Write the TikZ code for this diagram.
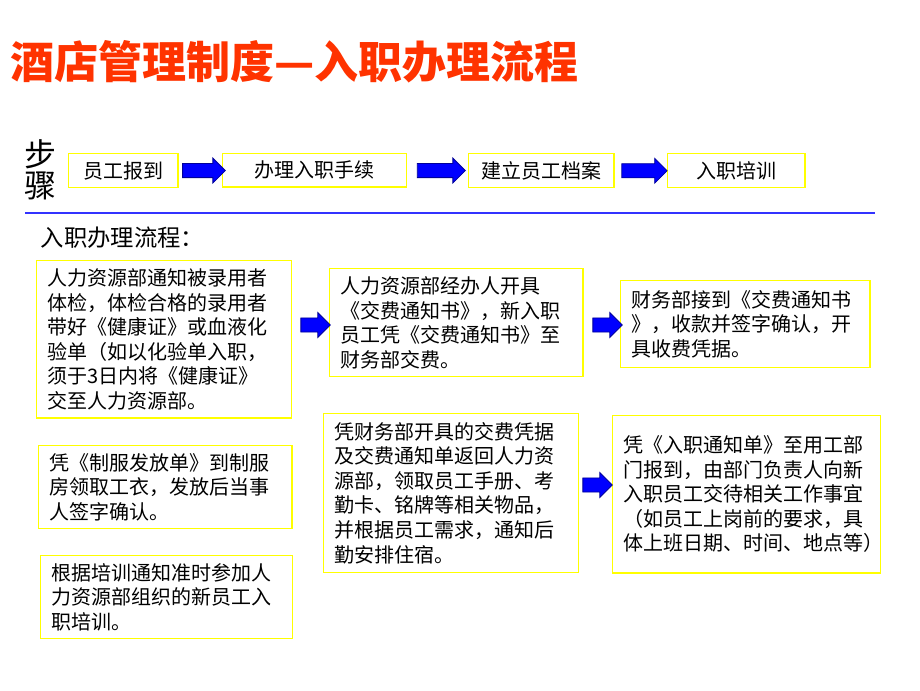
\documentclass[tikz,border=0pt]{standalone}
\usepackage{fontspec}
\setmainfont{Noto Sans CJK SC}
\usetikzlibrary{calc, positioning, shapes.arrows}
\definecolor{boxyellow}{RGB}{255,255,0}
\definecolor{titlered}{RGB}{255,51,0}
\definecolor{arrowblue}{RGB}{0,0,255}
\definecolor{rulerblue}{RGB}{51,51,255}
\tikzset{
  box/.style={draw=boxyellow, line width=1.1pt, anchor=north west, align=left,
    inner xsep=8pt, inner ysep=0pt, font=\fontsize{15}{18.4}\selectfont, fill=white},
  stepbox/.style={box, align=center, inner xsep=0pt},
  bigarrow/.style={single arrow, draw=arrowblue!60!black, fill=arrowblue, line width=0.6pt,
    minimum height=#1, inner xsep=0pt, inner ysep=5pt, text height=0pt, text depth=0pt,
    single arrow head extend=4pt, single arrow head indent=0pt},
}
\begin{document}
\begin{tikzpicture}[x=0.75pt, y=-0.75pt]
    \useasboundingbox (0,0) rectangle (920,690);

    % Title
    \node[anchor=west, text=titlered, font=\fontsize{33}{36}\selectfont\bfseries] (title) at (6,62) {酒店管理制度—入职办理流程};

    % Steps
    \node[font=\fontsize{24}{26}\selectfont] (bu) at (40,154) {步};
    \node[font=\fontsize{24}{26}\selectfont] (zhou) at (40,186) {骤};
    \node[stepbox, minimum width=82pt, minimum height=25.5pt] (s1) at (68,153) {员工报到};
    \node[stepbox, minimum width=138pt, minimum height=25pt] (s2) at (222,153) {办理入职手续};
    \node[stepbox, minimum width=109pt, minimum height=25.5pt] (s3) at (468,153) {建立员工档案};
    \node[stepbox, minimum width=103pt, minimum height=25.5pt] (s4) at (667,153) {入职培训};
    \node[bigarrow=32pt] (a1) at ($(s1.east)!0.5!(s2.west)$) {};
    \node[bigarrow=36pt] (a2) at ($(s2.east)!0.5!(s3.west)$) {};
    \node[bigarrow=34pt] (a3) at ($(s3.east)!0.5!(s4.west)$) {};

    % Separator
    \coordinate (rl) at (25,213);
    \coordinate (rr) at (875,213);
    \draw[rulerblue, line width=0.9pt] (rl) -- (rr);

    \node[anchor=west, font=\fontsize{17.5}{20}\selectfont] (head) at (36,238) {入职办理流程：};

    % Process boxes
    \node[box, text width=175pt, minimum height=118pt] (pa) at (36,260)
      {人力资源部通知被录用者\\体检，体检合格的录用者\\带好《健康证》或血液化\\验单（如以化验单入职，\\须于3日内将《健康证》\\交至人力资源部。};
    \node[box, text width=174pt, minimum height=81pt] (pb) at (329,268)
      {人力资源部经办人开具\\《交费通知书》，新入职\\员工凭《交费通知书》至\\财务部交费。};
    \node[box, text width=171pt, minimum height=65pt] (pc) at (620,280)
      {财务部接到《交费通知书\\》，收款并签字确认，开\\具收费凭据。};
    \node[box, text width=174pt, minimum height=62pt] (pd) at (38,445)
      {凭《制服发放单》到制服\\房领取工衣，发放后当事\\人签字确认。};
    \node[box, text width=175pt, minimum height=119pt] (pe) at (323,413)
      {凭财务部开具的交费凭据\\及交费通知单返回人力资\\源部，领取员工手册、考\\勤卡、铭牌等相关物品，\\并根据员工需求，通知后\\勤安排住宿。};
    \node[box, text width=185pt, minimum height=118pt] (pf) at (612,415)
      {凭《入职通知单》至用工部\\门报到，由部门负责人向新\\入职员工交待相关工作事宜\\（如员工上岗前的要求，具\\体上班日期、时间、地点等）};
    \node[box, text width=173pt, minimum height=62pt] (pg) at (40,555)
      {根据培训通知准时参加人\\力资源部组织的新员工入\\职培训。};

    \node[bigarrow=22pt] (a4) at (312,325) {};
    \node[bigarrow=22pt] (a5) at (604,325) {};
    \node[bigarrow=22pt] (a6) at (594,485) {};
\end{tikzpicture}
\end{document}
